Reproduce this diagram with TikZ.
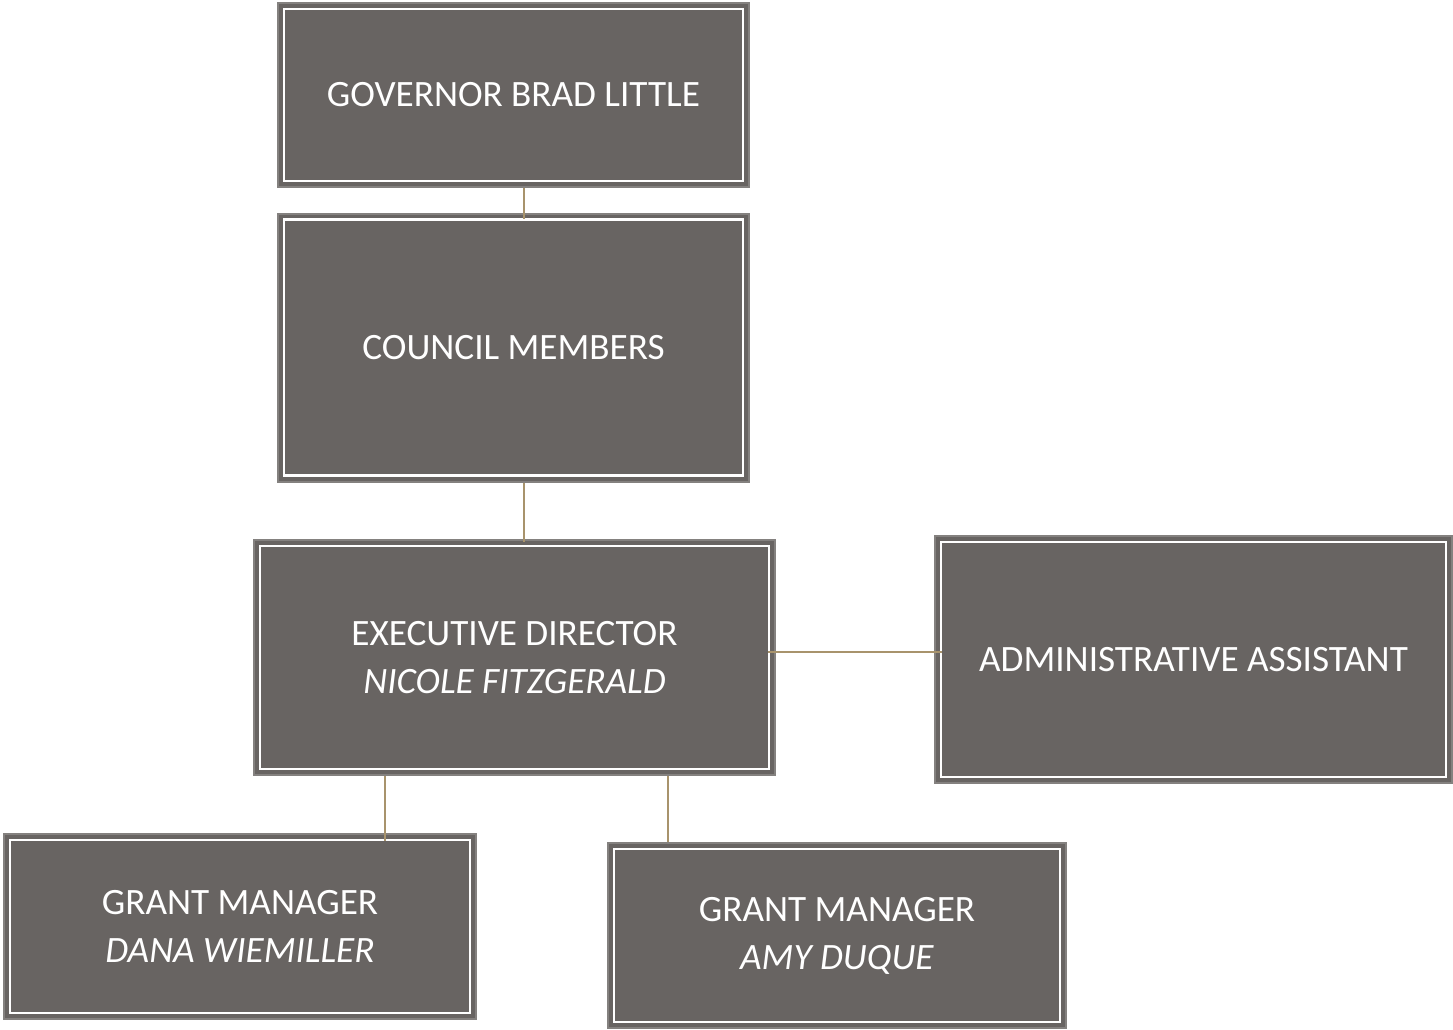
\documentclass[tikz,border=0pt]{standalone}
\usepackage{fontspec}
\setmainfont{Carlito}
\definecolor{boxfill}{HTML}{686462}
\definecolor{boxedge}{HTML}{84817F}
\definecolor{linktan}{HTML}{A8936C}
\tikzset{
  orgbox/.style={rectangle, draw=boxedge, line width=2pt, fill=boxfill,
    inner sep=0pt, text=white, align=center,
    font=\fontsize{37.2}{48}\selectfont,
    path picture={\draw[white, line width=2.2pt]
      ([shift={(6pt,-6pt)}]path picture bounding box.north west) rectangle
      ([shift={(-6pt,6pt)}]path picture bounding box.south east);}},
  link/.style={draw=linktan, line width=1.2pt}
}
\begin{document}
\begin{tikzpicture}[x=1pt,y=-1pt]
\useasboundingbox (0,0) rectangle (1453,1030);
\coordinate (xa) at (524,0);
\coordinate (xb) at (385,0);
\coordinate (xc) at (668,0);
\coordinate (ya) at (0,652);
\node[orgbox, minimum width=471pt, minimum height=184pt] (gov) at (513.5,95) {GOVERNOR BRAD LITTLE};
\node[orgbox, minimum width=471pt, minimum height=268pt] (council) at (513.5,347.5) {COUNCIL MEMBERS};
\node[orgbox, minimum width=521pt, minimum height=235pt] (exec) at (514.5,657.5) {EXECUTIVE DIRECTOR\\\textit{NICOLE FITZGERALD}};
\node[orgbox, minimum width=517pt, minimum height=247pt] (admin) at (1193.5,659.5) {ADMINISTRATIVE ASSISTANT};
\node[orgbox, minimum width=472pt, minimum height=185pt] (dana) at (240,926.5) {GRANT MANAGER\\\textit{DANA WIEMILLER}};
\node[orgbox, minimum width=458pt, minimum height=185pt] (amy) at (837,935.5) {GRANT MANAGER\\\textit{AMY DUQUE}};
\draw[link] (gov.south -| xa) -- ([yshift=-6pt]council.north -| xa);
\draw[link] (council.south -| xa) -- ([yshift=-3pt]exec.north -| xa);
\draw[link] ([xshift=-8pt]exec.east |- ya) -- ([xshift=8pt]admin.west |- ya);
\draw[link] (exec.south -| xb) -- ([yshift=-8pt]dana.north -| xb);
\draw[link] (exec.south -| xc) -- (amy.north -| xc);
\end{tikzpicture}
\end{document}
